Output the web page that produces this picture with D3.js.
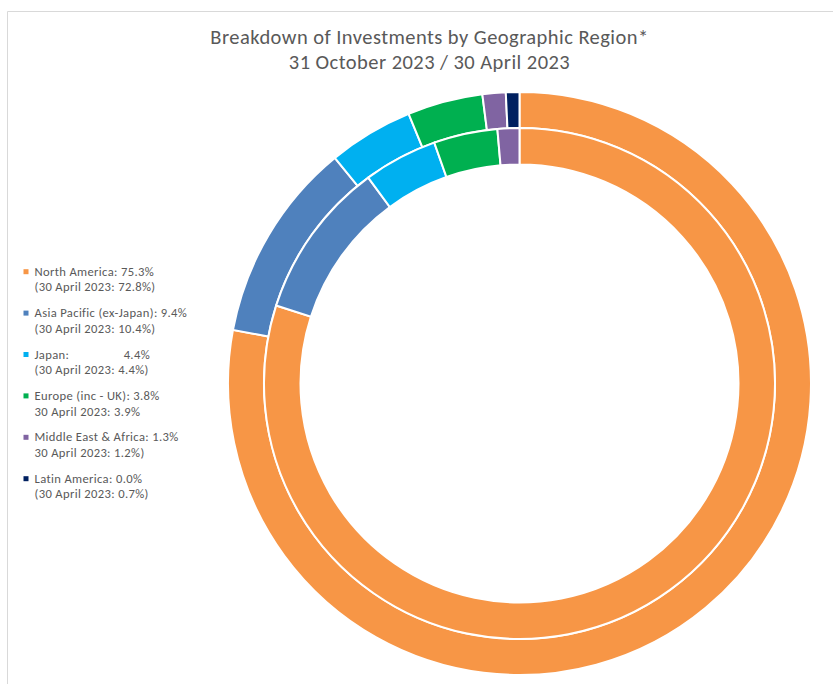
<!DOCTYPE html>
<html>
<head>
<meta charset="utf-8">
<script src="https://cdn.jsdelivr.net/npm/d3@7/dist/d3.min.js"></script>
<style>
  html, body { margin: 0; padding: 0; background: #fff; }
  svg { display: block; }
  text { font-family: Calibri, Carlito, Lato, "Open Sans", sans-serif; fill: #595959; }
</style>
</head>
<body>
<svg id="chart" width="833" height="684"></svg>
<script>
// ---- data ----
const regions = ["North America", "Asia Pacific (ex-Japan)", "Japan", "Europe (inc - UK)", "Middle East & Africa", "Latin America"];
const oct2023 = [75.3, 9.4, 4.4, 3.8, 1.3, 0.0];   // inner ring
const apr2023 = [72.8, 10.4, 4.4, 3.9, 1.2, 0.7];  // outer ring
const colors = ["#F79646", "#4F81BD", "#00B0F0", "#00B050", "#8064A2", "#002060"];
const legendLine1 = ["North America: 75.3%", "Asia Pacific (ex-Japan): 9.4%", "Japan:                 4.4%", "Europe (inc - UK): 3.8%", "Middle East & Africa: 1.3%", "Latin America: 0.0%"];
const legendLine2 = ["(30 April 2023: 72.8%)", "(30 April 2023: 10.4%)", "(30 April 2023: 4.4%)", "30 April 2023: 3.9%", "30 April 2023: 1.2%)", "(30 April 2023: 0.7%)"];
const titleLines = ["Breakdown of Investments by Geographic Region*", "31 October 2023 / 30 April 2023"];

const svg = d3.select("#chart");

// frame
svg.append("path")
  .attr("d", "M7.5,684 L7.5,11.5 L833,11.5")
  .attr("fill", "none").attr("stroke", "#d9d9d9").attr("stroke-width", 1);

// title
svg.append("g").selectAll("text").data(titleLines).join("text")
  .attr("x", 429.5).attr("y", (d, i) => 43.5 + i * 25)
  .attr("text-anchor", "middle").attr("font-size", 20.5)
  .attr("letter-spacing", 0.45)
  .text(d => d);

// rings
const cx = 519.5, cy = 383.5;
const pie = d3.pie().sort(null).value(d => d).startAngle(0).endAngle(2 * Math.PI);
const g = svg.append("g").attr("transform", `translate(${cx},${cy})`);

const rings = [
  { data: apr2023, inner: 255.5, outer: 291.5 },
  { data: oct2023, inner: 219, outer: 255.5 }
];
rings.forEach(r => {
  const arc = d3.arc().innerRadius(r.inner).outerRadius(r.outer);
  g.append("g").selectAll("path").data(pie(r.data).filter(d => d.value > 0)).join("path")
    .attr("d", arc)
    .attr("fill", d => colors[d.index])
    .attr("stroke", "#fff").attr("stroke-width", 2).attr("stroke-linejoin", "miter");
});

// legend
const lg = svg.append("g");
const y0 = 271.7, gap = 41.4, lh = 15.6;
regions.forEach((r, i) => {
  const y = y0 + i * gap;
  lg.append("rect").attr("x", 23.5).attr("y", y - 2.5).attr("width", 5).attr("height", 5).attr("fill", colors[i]);
  lg.append("text").attr("x", 34.5).attr("y", y + 4).attr("font-size", 12.6)
    .attr("letter-spacing", 0.35)
    .style("white-space", "pre").attr("xml:space", "preserve").text(legendLine1[i]);
  lg.append("text").attr("x", 34.5).attr("y", y + lh + 4).attr("font-size", 12.6)
    .attr("letter-spacing", 0.35)
    .text(legendLine2[i]);
});
</script>
</body>
</html>
